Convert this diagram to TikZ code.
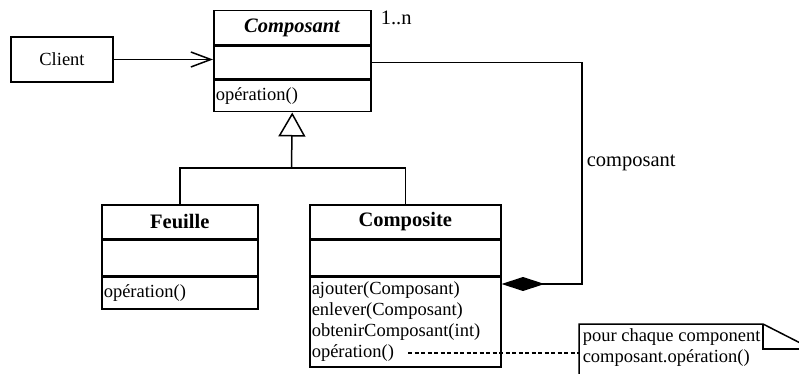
\documentclass[tikz,border=0pt]{standalone}
\usepackage{fontspec}
\setmainfont{Liberation Serif}
\usepackage{tikz}
\usetikzlibrary{arrows.meta, positioning, calc}

\newcommand{\bodysize}{\fontsize{18.5}{21}\selectfont}
\newcommand{\titlesize}{\fontsize{20.5}{22}\selectfont}

\begin{document}
\begin{tikzpicture}[x=1pt, y=-1pt, line width=1.5pt,
        every node/.style={inner sep=0pt},
        classtitle/.style={draw, minimum height=34pt, font=\titlesize\bfseries},
        compart/.style={draw, inner xsep=2pt, inner ysep=0pt, align=left, font=\bodysize}]
    \useasboundingbox (0,0) rectangle (799,374);
    \clip (0,0) rectangle (799,374);
    % client
    \node[draw, minimum width=102pt, minimum height=45pt, font=\bodysize] (client) at (62,59.5) {Client};
    % classe Composant
    \node[classtitle, minimum width=157pt, anchor=north west] (compo) at (213,10) {\textit{Composant}};
    \node[compart, text width=153pt, minimum height=33pt, below=0pt of compo] (compoattr) {};
    \node[compart, text width=153pt, minimum height=31pt, below=0pt of compoattr] (compoops) {op\'eration()};
    % classe Feuille
    \node[classtitle, minimum width=156pt, anchor=north west] (feuille) at (101,204) {Feuille};
    \node[compart, text width=152pt, minimum height=35pt, below=0pt of feuille] (feuilleattr) {};
    \node[compart, text width=152pt, minimum height=32pt, below=0pt of feuilleattr] (feuilleops) {op\'eration()};
    % classe Composite
    \node[classtitle, minimum width=191pt, anchor=north west] (composite) at (309,204) {Composite};
    \node[compart, text width=187pt, minimum height=90pt, below=0pt of composite, minimum height=35pt] (compositeattr) {};
    \node[compart, text width=187pt, minimum height=90pt, below=0pt of compositeattr] (compositeops)
        {ajouter(Composant)\\enlever(Composant)\\obtenirComposant(int)\\op\'eration()};
    % note
    \node[align=left, anchor=north west, inner xsep=3pt, inner ysep=4pt, font=\bodysize] (note) at (579,324)
        {pour chaque component\\composant.op\'eration()};
    \coordinate (fold) at (763,324);
    \draw (note.north west |- 0,380) -- (note.north west) -- (fold) -- (812,349);
    \draw (fold) -- (763,349) -- (812,349);
    % liens
    \coordinate (gen) at (291.5,168);
    \coordinate (bend) at (582,284);
    \coordinate (agg) at (compositeops.east |- bend);
    \coordinate (opend) at (408,353);
    \draw[-{Straight Barb[length=20pt, width=15pt]}] (client) -- (client -| compoattr.west);
    \draw[-{Triangle[open, length=24pt, width=27pt]}] (gen) -- (compoops.south);
    \draw (feuille.north) |- (gen) -| (composite.north);
    \draw[-{Diamond[length=43pt, width=14pt]}] (compoattr.east) -| (bend) -- (agg);
    \draw[line width=1.2pt, dash pattern=on 4pt off 2.5pt] (opend) -- (opend -| note.west);
    \node[anchor=west, font=\titlesize] (mult) at (380,18) {1..n};
    \node[anchor=west, font=\titlesize] (role) at (586,163) {composant};
\end{tikzpicture}
\end{document}
